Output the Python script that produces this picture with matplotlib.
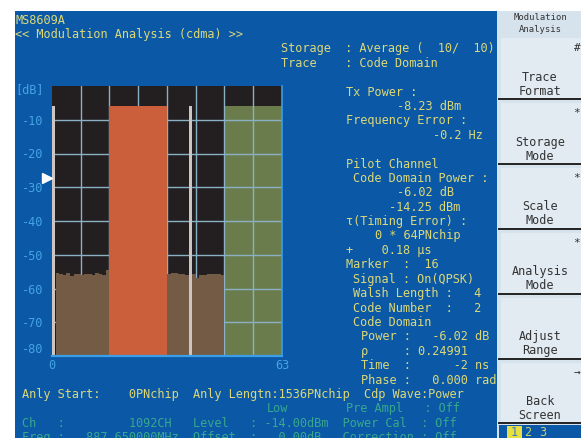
import numpy as np
import matplotlib
matplotlib.use("Agg")
import matplotlib.pyplot as plt
from matplotlib.patches import Rectangle
from matplotlib.transforms import blended_transform_factory

# code domain data (Walsh codes 0..63, dB)
floor_db = -80
noise_codes = list(range(1, 16)) + list(range(32, 48))
noise_db = [-55.4, -55.6, -55.9, -55.5, -56.2, -55.7, -55.6, -56.1, -55.8, -55.6,
            -55.9, -55.4, -55.7, -55.9, -54.6,
            -55.6, -55.3, -55.4, -55.7, -55.6, -55.9, -55.9, -55.8, -56.9, -56.1,
            -55.9, -55.7, -55.8, -55.6, -55.7, -55.9]
marker_codes = list(range(16, 32))
marker_db = [-6.02] * 16
other_codes = list(range(48, 64))
other_db = [-6.02] * 16
thin_codes = [0, 38]
thin_db = [-6.02, -6.02]
ref_level_db = -27.2

y_ticks = [-10, -20, -30, -40, -50, -60, -70, -80]
x_ticks = [0, 64]
x_labels = ["0", "63"]

BLUE = "#0a58a6"
YEL = "#dcd878"
TEAL = "#38a88c"
TICK = "#46a4e4"
PANEL = "#d6e2ec"
BTN = "#e2ebf2"
INK = "#333333"
MONO = "DejaVu Sans Mono"

fig = plt.figure(figsize=(5.81, 4.38), dpi=100)
fig.patch.set_facecolor("white")

# background / screen layer in pixel coordinates
bg = fig.add_axes([0, 0, 1, 1])
bg.set_xlim(0, 581)
bg.set_ylim(438, 0)
bg.axis("off")
bg.add_patch(Rectangle((15, 11), 482, 427, color=BLUE, lw=0))
bg.add_patch(Rectangle((497, 11), 84, 427, color=PANEL, lw=0))

CW, X0, RH, Y0 = 7.2, 15, 14.4, 19


def put(col, row, s, color=YEL):
    bg.text(X0 + col * CW, Y0 + row * RH + 4.5, s, color=color, family=MONO,
            size=8.6, va="baseline", ha="left")


put(0, 0, "MS8609A")
put(0, 1, "<< Modulation Analysis (cdma) >>")
put(37, 2, "Storage  : Average (  10/  10)")
put(37, 3, "Trace    : Code Domain")
put(46, 5, "Tx Power :")
put(53, 6, "-8.23 dBm")
put(46, 7, "Frequency Error :")
put(58, 8, "-0.2 Hz")
put(46, 10, "Pilot Channel")
put(47, 11, "Code Domain Power :")
put(53, 12, "-6.02 dB")
put(52, 13, "-14.25 dBm")
put(46, 14, "τ(Timing Error) :")
put(50, 15, "0 * 64PNchip")
put(46, 16, "+    0.18 μs")
put(46, 17, "Marker  :  16")
put(47, 18, "Signal : On(QPSK)")
put(47, 19, "Walsh Length :   4")
put(47, 20, "Code Number  :   2")
put(47, 21, "Code Domain")
put(48, 22, "Power :   -6.02 dB")
put(48, 23, "ρ     : 0.24991")
put(48, 24, "Time  :      -2 ns")
put(48, 25, "Phase :   0.000 rad")
put(1, 26, "Anly Start:    0PNchip  Anly Lengtn:1536PNchip  Cdp Wave:Power")
put(35, 27, "Low", TEAL)
put(46, 27, "Pre Ampl   : Off", TEAL)
put(1, 28, "Ch   :         1092CH   Level   : -14.00dBm  Power Cal  : Off", TEAL)
put(1, 29, "Freq :   887.650000MHz  Offset  :   0.00dB   Correction : Off", TEAL)
put(0, 4.8, "[dB]", TICK)

# soft key panel
bg.text(540, 17, "Modulation", family=MONO, size=6.4, color=INK, ha="center", va="center")
bg.text(540, 29, "Analysis", family=MONO, size=6.4, color=INK, ha="center", va="center")
keys = [("#", "Trace", "Format"), ("*", "Storage", "Mode"), ("*", "Scale", "Mode"),
        ("*", "Analysis", "Mode"), ("", "Adjust", "Range"), ("→", "Back", "Screen")]
for i, (mark, l1, l2) in enumerate(keys):
    line_y = 99.3 + 64.8 * i
    top = 38 if i == 0 else line_y - 60.8
    bg.add_patch(Rectangle((500.5, top), 80.5, line_y - top, color=BTN, lw=0))
    bg.plot([499, 581], [line_y, line_y], color="#222222", lw=1.4)
    bg.text(577, top + 10, mark, family=MONO, size=8, color=INK, ha="center", va="center")
    bg.text(540, line_y - 22, l1, family=MONO, size=8.5, color=INK, ha="center", va="center")
    bg.text(540, line_y - 8, l2, family=MONO, size=8.5, color=INK, ha="center", va="center")
bg.add_patch(Rectangle((499, 425), 82, 13, color=BLUE, lw=0))
bg.add_patch(Rectangle((507, 426), 15, 12, color="#e8e040", lw=0))
bg.text(514.5, 433, "1", family=MONO, size=8.5, color="#3a7ac0", ha="center", va="center")
bg.text(528, 433, "2", family=MONO, size=8.5, color="#c8d070", ha="center", va="center")
bg.text(543, 433, "3", family=MONO, size=8.5, color="#c8d070", ha="center", va="center")

# code domain graph
ax = fig.add_axes([52 / 581, (438 - 356) / 438, 230 / 581, 270 / 438])
ax.set_facecolor("#231f20")
ax.set_xlim(0, 64)
ax.set_ylim(floor_db, 0)

ax.bar(other_codes, np.array(other_db) - floor_db, bottom=floor_db, width=1,
       align="edge", color="#6b7c4c", lw=0, zorder=0.3)
for v in range(8, 64, 8):
    ax.axvline(v, color="#8ab0c6", lw=1, zorder=0.5)
for v in y_ticks[:-1]:
    ax.axhline(v, color="#8ab0c6", lw=1, zorder=0.5)
ax.bar(noise_codes, np.array(noise_db) - floor_db, bottom=floor_db, width=1,
       align="edge", color="#735b45", lw=0, zorder=1)
ax.bar(marker_codes, np.array(marker_db) - floor_db, bottom=floor_db, width=1,
       align="edge", color="#cc5f3b", lw=0, zorder=1)
ax.bar(thin_codes, np.array(thin_db) - floor_db, bottom=floor_db, width=0.85,
       align="edge", color="#cdc5c1", lw=0, zorder=2)

trans = blended_transform_factory(ax.transAxes, ax.transData)
ax.plot([-0.021], [ref_level_db], marker=">", ms=6.5, color="white", mec="white",
        transform=trans, clip_on=False)

ax.set_yticks(y_ticks)
ax.set_yticklabels([str(v) for v in y_ticks])
ax.set_xticks(x_ticks)
ax.set_xticklabels(x_labels)
ax.tick_params(length=0, colors=TICK, labelsize=8.6)
ax.tick_params(axis="y", pad=6.5)
ax.tick_params(axis="x", pad=2)
for lab in ax.get_xticklabels() + ax.get_yticklabels():
    lab.set_family(MONO)
ax.get_yticklabels()[-1].set_va("bottom")
for side in ["top", "left"]:
    ax.spines[side].set_visible(False)
ax.spines["bottom"].set_color("#3c9ee6")
ax.spines["bottom"].set_linewidth(1.6)
ax.spines["right"].set_color("#3c9ee6")
ax.spines["right"].set_linewidth(1.2)

fig.savefig("out.png", dpi=100, facecolor=fig.get_facecolor())
